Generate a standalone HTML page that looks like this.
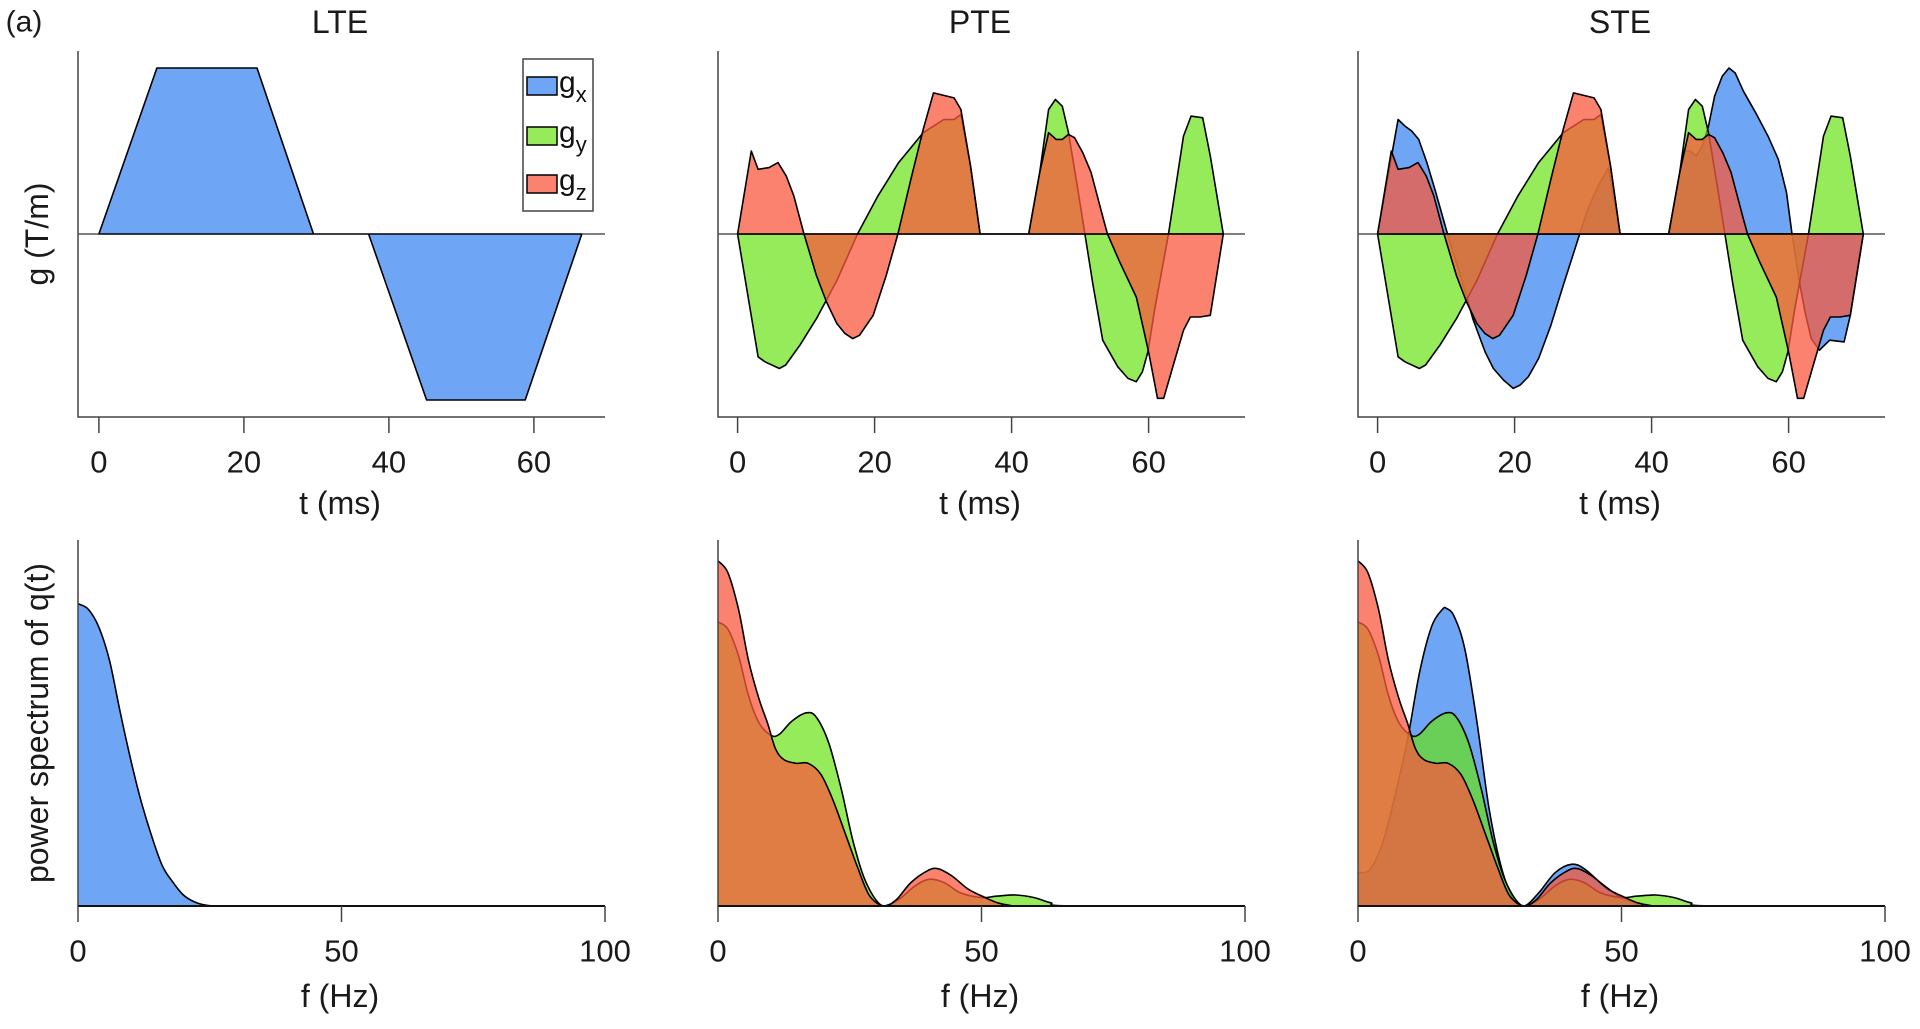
<!DOCTYPE html>
<html><head><meta charset="utf-8"><style>
html,body{margin:0;padding:0;background:#fff;}
svg{display:block;font-family:"Liberation Sans",Arial,sans-serif;}
</style></head><body>
<svg id="fig" width="1920" height="1029" viewBox="0 0 1920 1029"></svg>
<script>
// ---------- data ----------
const lteT  = [0, 8, 21.8, 29.6, 37.2, 45.2, 58.8, 66.6];
const lteGx = [0, 1, 1, 0, 0, -1, -1, 0];

const pteGzT = [0,2,3,4.6,5.9,7.1,8.2,9.7,11.5,13,14.5,15.7,16.8,17.8,19.8,21.7,23.4,25.3,27.1,28.6,31.6,32.6,34,35.4,42.5,44.1,45.4,46.5,47.4,48.3,49.2,50.4,51.6,53.4,54,55.8,58.2,60,61.3,62.2,63.6,65.1,66.1,67.5,69,70.9];
const pteGz  = [0,0.50,0.39,0.40,0.43,0.35,0.23,0,-0.25,-0.41,-0.54,-0.60,-0.63,-0.61,-0.49,-0.25,0,0.33,0.63,0.85,0.82,0.75,0.41,0,0,0.37,0.61,0.57,0.57,0.60,0.58,0.49,0.37,0.09,0,-0.17,-0.38,-0.71,-0.99,-0.99,-0.79,-0.58,-0.50,-0.50,-0.49,0];
const pteGyT = [0,3,4,6.1,7,9.1,11.5,14.5,17.5,20.5,23.5,27.1,30.1,31.6,32.6,34,35.4,42.5,44.1,45.4,46.4,47.4,48.3,49.5,50.7,51.9,53.3,55.5,57,58.2,59.1,59.9,60.9,62.9,65.1,66.2,67.9,69,70.9];
const pteGy  = [0,-0.74,-0.77,-0.81,-0.79,-0.67,-0.51,-0.28,0,0.23,0.43,0.61,0.69,0.69,0.72,0.41,0,0,0.37,0.75,0.81,0.77,0.61,0.31,0,-0.31,-0.64,-0.80,-0.87,-0.89,-0.83,-0.71,-0.45,0,0.59,0.71,0.70,0.47,0];
const steGxT = [0,3,4,5,6,7.2,8.5,10.2,12.1,13.9,15.7,16.9,18.4,19.8,20.8,22,23.5,25.3,27.1,29.5,30.7,32.2,33.7,35.4,42.5,44.7,45.6,46.5,47.4,48.3,49.2,50.3,51.3,52.2,53.4,55.2,57,58.5,59.7,60.5,61.5,62.4,63.3,64.5,66,68.1,69,70.9];
const steGx  = [0,0.69,0.65,0.62,0.57,0.43,0.25,0,-0.25,-0.51,-0.71,-0.81,-0.88,-0.93,-0.91,-0.86,-0.75,-0.55,-0.31,0,0.15,0.29,0.40,0,0,0.50,0.50,0.47,0.53,0.65,0.83,0.95,1.0,0.97,0.86,0.73,0.59,0.45,0.25,0,-0.27,-0.47,-0.63,-0.70,-0.64,-0.65,-0.49,0];

const lteSpecF = [0,2,4,6,8,10,12,14,16,18,20,22,24,26,30,40,60,100];
const lteSpecX = [0.826,0.81,0.76,0.67,0.53,0.40,0.285,0.19,0.11,0.065,0.03,0.012,0.003,0,0,0,0,0];
const specZF = [0,1.9,3.9,5.8,7.8,9.4,10.9,12.5,14.8,17.1,19.5,21.8,24.2,26.5,28.8,31.6,33.9,36.6,39.7,41.7,44.4,47.5,50.7,53,55.3,60,100];
const specZ  = [0.943,0.91,0.81,0.67,0.565,0.50,0.43,0.40,0.39,0.39,0.36,0.29,0.196,0.105,0.027,0,0.018,0.064,0.096,0.102,0.082,0.046,0.023,0.009,0.002,0,0];
const specYF = [0,1.9,3.9,5.8,7.8,10.1,11.7,14,16.8,18.7,21,23.4,25.7,28.1,31.2,34.3,37.4,40.1,42.9,46,49.9,53,56.5,60,63.1,67,100];
const specY  = [0.776,0.756,0.683,0.574,0.50,0.466,0.47,0.505,0.528,0.515,0.446,0.319,0.173,0.064,0,0.018,0.055,0.073,0.064,0.036,0.023,0.027,0.030,0.023,0.009,0,0];
const specXF = [0,2.3,4.7,7,9.4,11.7,14,16,16.8,18.3,20.3,22.6,24.9,27.3,29.6,31.6,34.3,37.4,40.5,42.9,46,49.9,53,57,100];
const specX  = [0.091,0.10,0.173,0.30,0.455,0.64,0.765,0.81,0.813,0.79,0.70,0.50,0.264,0.10,0.018,0,0.036,0.091,0.114,0.102,0.064,0.023,0.007,0,0];

const tTicks = [0,20,40,60];
const fTicks = [0,50,100];
const titles = ["LTE","PTE","STE"];

// ---------- drawing ----------
const NS = "http://www.w3.org/2000/svg";
const svg = document.getElementById("fig");
function mk(tag, attrs, parent){
  const e = document.createElementNS(NS, tag);
  for (const k in attrs) e.setAttribute(k, attrs[k]);
  (parent||svg).appendChild(e);
  return e;
}
const COL = {
  x: {fill:"rgb(62,136,242)", op:0.75},
  y: {fill:"rgb(103,226,16)", op:0.69},
  z: {fill:"rgb(248,88,62)", op:0.75}
};
const panelsX = [78, 718, 1358];
const axW = 527;
const topY0 = 51, topY1 = 417, zeroY = 234, ampPx = 166;
const botY0 = 540, botY1 = 906, botH = 366;
const tScale = [{o:98.9,k:7.25},{o:737.6,k:6.85},{o:1377.6,k:6.85}];

function tx(p, t){ return tScale[p].o + tScale[p].k*t; }
function gy(v){ return zeroY - ampPx*v; }
function fx(p, f){ return panelsX[p] + 5.27*f; }
function py(v){ return botY1 - botH*v; }

function linePath(pts){ return pts.map((q,i)=>(i?"L":"M")+q[0].toFixed(1)+","+q[1].toFixed(1)).join(""); }
function smoothPath(pts){
  let d = "M"+pts[0][0].toFixed(1)+","+pts[0][1].toFixed(1);
  for (let i=0;i<pts.length-1;i++){
    const p0=pts[Math.max(0,i-1)], p1=pts[i], p2=pts[i+1], p3=pts[Math.min(pts.length-1,i+2)];
    let c1y = p1[1]+(p2[1]-p0[1])/6, c2y = p2[1]-(p3[1]-p1[1])/6;
    if (p1[1]>=botY1-0.5 || p2[1]>=botY1-0.5){ c1y=Math.min(c1y,botY1); c2y=Math.min(c2y,botY1); }
    d += "C"+(p1[0]+(p2[0]-p0[0])/6).toFixed(1)+","+c1y.toFixed(1)+" "+(p2[0]-(p3[0]-p1[0])/6).toFixed(1)+","+c2y.toFixed(1)+" "+p2[0].toFixed(1)+","+p2[1].toFixed(1);
  }
  return d;
}

function waveArea(p, T, V, c, name){
  const pts = T.map((t,i)=>[tx(p,t), gy(V[i])]);
  const e = mk("path", {d: linePath(pts)+"Z", fill:COL[c].fill, "fill-opacity":COL[c].op, stroke:"#000", "stroke-width":1.6, "stroke-linejoin":"round"});
  
  
}
function specArea(p, F, V, c, name){
  const pts = F.map((f,i)=>[fx(p,f), py(V[i])]);
  const d = smoothPath(pts)+"L"+fx(p,F[F.length-1]).toFixed(1)+","+botY1+"L"+fx(p,0).toFixed(1)+","+botY1+"Z";
  const e = mk("path", {d: d, fill:COL[c].fill, "fill-opacity":COL[c].op, stroke:"none"});
  
  
  const l = mk("path", {d: smoothPath(pts), fill:"none", stroke:"#000", "stroke-width":1.6});
  
  
}
function text(x,y,s,size,name,extra){
  const e = mk("text", Object.assign({x:x,y:y,"font-size":size,"text-anchor":"middle","dominant-baseline":"central",fill:"#1a1a1a"}, extra||{}));
  e.textContent = s;
  
  
  return e;
}

text(24, 22, "(a)", 30, "panel-label");

for (let p=0;p<3;p++){
  const X0 = panelsX[p];
  const cx = X0 + 262;
  text(cx, 22, titles[p], 32, "title-"+titles[p].toLowerCase());
  if (p===0){
    waveArea(0, lteT, lteGx, "x", "lte-gx-area");
  } else {
    if (p===2) waveArea(2, steGxT, steGx, "x", "ste-gx-area");
    waveArea(p, pteGyT, pteGy, "y", titles[p].toLowerCase()+"-gy-area");
    waveArea(p, pteGzT, pteGz, "z", titles[p].toLowerCase()+"-gz-area");
  }
  const zl = mk("line",{x1:X0,x2:X0+axW,y1:zeroY,y2:zeroY,stroke:"#000","stroke-width":1});
  
  
  const ax = mk("path",{d:`M${X0},${topY0}L${X0},${topY1}L${X0+axW},${topY1}`,fill:"none",stroke:"#444","stroke-width":1.5});
  
  
  tTicks.forEach(t=>{
    const x = tx(p,t);
    const tk = mk("line",{x1:x,x2:x,y1:topY1,y2:topY1+16,stroke:"#444","stroke-width":1.5});
    
    
    text(x, 462, String(t), 31, "x-tick-label");
  });
  text(cx, 503, "t (ms)", 32, "x-axis-title-time");
  if (p===0){
    specArea(0, lteSpecF, lteSpecX, "x", "lte-spectrum-x");
  } else {
    if (p===2) specArea(2, specXF, specX, "x", "ste-spectrum-x");
    specArea(p, specYF, specY, "y", titles[p].toLowerCase()+"-spectrum-y");
    specArea(p, specZF, specZ, "z", titles[p].toLowerCase()+"-spectrum-z");
  }
  const ax2 = mk("path",{d:`M${X0},${botY0}L${X0},${botY1}L${X0+axW},${botY1}`,fill:"none",stroke:"#444","stroke-width":1.5});
  
  
  const bl = mk("line",{x1:X0,x2:X0+axW,y1:botY1,y2:botY1,stroke:"#111","stroke-width":2});
  
  
  fTicks.forEach(f=>{
    const x = fx(p,f);
    const tk = mk("line",{x1:x,x2:x,y1:botY1,y2:botY1+16,stroke:"#444","stroke-width":1.5});
    
    
    text(x, 951, String(f), 31, "f-tick-label");
  });
  text(cx, 996, "f (Hz)", 32, "x-axis-title-freq");
}
text(37, 234, "g (T/m)", 32, "y-axis-title-gradient", {transform:"rotate(-90 37 234)"});
text(37, 723, "power spectrum of q(t)", 32, "y-axis-title-spectrum", {transform:"rotate(-90 37 723)"});

const lg = mk("g",{});


mk("rect",{x:523,y:59,width:70,height:152,fill:"#fff",stroke:"#444","stroke-width":1.5},lg);
const legKeys = ["x","y","z"];
const legY = [77,127,175];
legKeys.forEach((k,i)=>{
  const sw = mk("rect",{x:527,y:legY[i],width:30,height:18,fill:COL[k].fill,"fill-opacity":COL[k].op,stroke:"#000","stroke-width":1.5},lg);
  
  
  const t = mk("text",{x:559,y:legY[i]+15,"font-size":30,fill:"#111"},lg);
  
  
  t.textContent = "g";
  const s = mk("tspan",{dy:10,"font-size":22},t);
  s.textContent = k;
});
</script>
</body></html>
